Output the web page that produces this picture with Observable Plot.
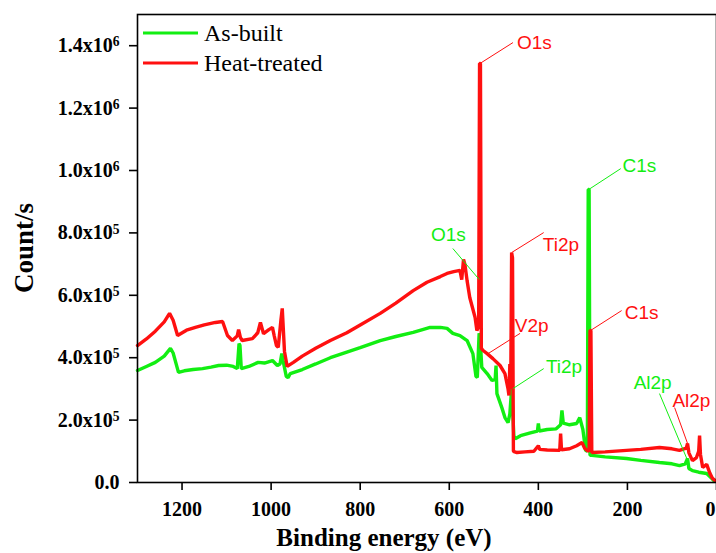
<!DOCTYPE html>
<html>
<head>
<meta charset="utf-8">
<script src="https://cdn.jsdelivr.net/npm/d3@7"></script>
<script src="https://cdn.jsdelivr.net/npm/@observablehq/plot@0.6"></script>
<style>
  html, body { margin: 0; padding: 0; background: white; }
  #chart { width: 716px; height: 553px; overflow: hidden; }
</style>
</head>
<body>
<div id="chart"></div>
<script>
// XPS survey spectra: binding energy (eV) vs. intensity (counts/s)
const asBuiltEnergy = [1300, 1280, 1260, 1240, 1226, 1220, 1208, 1195, 1175, 1154, 1135, 1118, 1100, 1085, 1076, 1072, 1070, 1067, 1050, 1029, 1015, 997, 986, 980, 976, 973, 966, 962, 957, 930, 900, 867, 830, 800, 755, 720, 681, 660, 643, 620, 605, 592, 576, 560, 547, 540, 537, 533, 531, 527, 515, 504, 497, 495, 493, 482, 475, 468, 464, 460, 458, 455, 452, 440, 420, 402, 400, 398, 380, 360, 350, 347, 344, 330, 314, 307, 300, 294, 290, 288, 286, 284, 280, 250, 202, 170, 128, 100, 83, 70, 65, 62, 54, 40, 22, 12, 5];
const asBuiltCounts = [359000, 372000, 385000, 405000, 430000, 415000, 353000, 358000, 362000, 365000, 370000, 375000, 376000, 372000, 365000, 445000, 440000, 365000, 372000, 385000, 383000, 391000, 375000, 380000, 413000, 390000, 340000, 336000, 349000, 362000, 380000, 400000, 418000, 432000, 455000, 468000, 481000, 490000, 497000, 497000, 494000, 478000, 471000, 455000, 413000, 340000, 337000, 478000, 470000, 369000, 349000, 327000, 330000, 375000, 285000, 240000, 208000, 192000, 220000, 300000, 240000, 150000, 140000, 150000, 158000, 165000, 189000, 165000, 170000, 172000, 185000, 231000, 190000, 185000, 189000, 208000, 170000, 103000, 100000, 939000, 939000, 87000, 87000, 82000, 77000, 71000, 64000, 60000, 54000, 60000, 77000, 45000, 38000, 33000, 29000, 15000, 5000];

const heatEnergy = [1300, 1280, 1260, 1240, 1228, 1220, 1210, 1190, 1170, 1150, 1125, 1109, 1098, 1087, 1076, 1073, 1069, 1065, 1042, 1030, 1024, 1017, 1005, 997, 993, 988, 984, 978, 975, 970, 964, 950, 930, 900, 867, 830, 800, 755, 720, 681, 650, 620, 605, 590, 576, 572, 568, 565, 560, 554, 542, 538, 534, 532, 530, 528, 524, 515, 502, 486, 475, 468, 466, 464, 462, 460, 458, 456, 448, 430, 410, 400, 397, 380, 352, 350, 348, 330, 314, 302, 296, 291, 286, 284, 282, 280, 250, 202, 170, 128, 100, 83, 68, 65, 62, 54, 45, 40, 38, 36, 31, 22, 15, 9, 2];
const heatCounts = [439000, 460000, 485000, 515000, 542000, 520000, 471000, 488000, 497000, 505000, 513000, 516000, 471000, 455000, 470000, 490000, 465000, 455000, 461000, 480000, 513000, 477000, 490000, 497000, 470000, 439000, 433000, 520000, 558000, 420000, 372000, 385000, 405000, 430000, 455000, 480000, 505000, 542000, 575000, 615000, 642000, 660000, 670000, 676000, 680000, 650000, 715000, 700000, 647000, 593000, 529000, 487000, 500000, 1343000, 1343000, 430000, 423000, 413000, 397000, 375000, 349000, 300000, 279000, 380000, 300000, 737000, 720000, 100000, 96000, 98000, 100000, 118000, 106000, 104000, 103000, 157000, 105000, 108000, 118000, 128000, 110000, 103000, 100000, 487000, 487000, 96000, 98000, 103000, 106000, 112000, 108000, 103000, 110000, 125000, 95000, 70000, 80000, 100000, 150000, 90000, 48000, 58000, 30000, 13000, 5000];

const seriesNames = ["As-built", "Heat-treated"];
const seriesColors = ["#12ee12", "#ff1010"];

const xTicks = [1200, 1000, 800, 600, 400, 200, 0];
const yTicks = [0, 200000, 400000, 600000, 800000, 1000000, 1200000, 1400000];
const yTickLabels = ["0.0", "2.0x10^5", "4.0x10^5", "6.0x10^5", "8.0x10^5", "1.0x10^6", "1.2x10^6", "1.4x10^6"];

// Peak labels: label, series, leader start (peak) -> leader end, text anchor point
const peakLabels = ["O1s", "C1s", "Ti2p", "O1s", "V2p", "Ti2p", "C1s", "Al2p", "Al2p"];
const peakSeries = [1, 0, 1, 0, 1, 0, 1, 0, 1];
const leaderFromE = [531, 287, 460, 592, 513, 457, 283, 128, 94];
const leaderFromC = [1343000, 939000, 737000, 750000, 413000, 301000, 487000, 285000, 240000];
const leaderToE = [457, 215, 388, 533, 441, 388, 213, 65, 65];
const leaderToC = [1410000, 1006000, 801000, 651000, 478000, 365000, 551000, 71000, 125000];
const labelE = [448, 211, 390, 641, 453, 383, 206, 186, 99];
const labelC = [1410000, 1016000, 763000, 792000, 503000, 369000, 545000, 320000, 263000];

const asBuilt = asBuiltEnergy.map((e, i) => ({energy: e, counts: asBuiltCounts[i]}));
const heat = heatEnergy.map((e, i) => ({energy: e, counts: heatCounts[i]}));
const peaks = peakLabels.map((label, i) => ({
  label, s: peakSeries[i],
  x1: leaderFromE[i], y1: leaderFromC[i], x2: leaderToE[i], y2: leaderToC[i],
  tx: labelE[i], ty: labelC[i]
}));

const yLabelMap = new Map(yTicks.map((v, i) => [v, yTickLabels[i]]));
const sans = "'Liberation Sans', Arial, sans-serif";
const serif = "'Liberation Serif', 'Times New Roman', serif";

const peakMarks = [0, 1].flatMap(s => [
  Plot.link(peaks, {filter: d => d.s === s, x1: "x1", y1: "y1", x2: "x2", y2: "y2", stroke: seriesColors[s], strokeWidth: 1}),
  Plot.text(peaks, {filter: d => d.s === s, x: "tx", y: "ty", text: "label", fill: seriesColors[s],
    textAnchor: "start", lineAnchor: "middle", fontFamily: sans, fontSize: 19, fontWeight: "normal"})
]);

const chart = Plot.plot({
  width: 716,
  height: 553,
  marginLeft: 137,
  marginRight: 0,
  marginTop: 14,
  marginBottom: 71,
  style: {fontFamily: serif, fontSize: "20px", fontWeight: "bold", background: "white", color: "black"},
  x: {domain: [1300, 0], label: null},
  y: {domain: [0, 1500000], label: null},
  marks: [
    Plot.axisX({ticks: xTicks, tickSize: 8, tickPadding: 11, strokeWidth: 1.6, tickFormat: d => String(d), label: null}),
    Plot.axisY({ticks: yTicks, tickSize: 8, tickPadding: 10, strokeWidth: 1.6, tickFormat: d => yLabelMap.get(d), label: null}),
    Plot.line(asBuilt, {x: "energy", y: "counts", stroke: seriesColors[0], strokeWidth: 3.4, strokeLinejoin: "miter"}),
    Plot.line(heat, {x: "energy", y: "counts", stroke: seriesColors[1], strokeWidth: 3.4, strokeLinejoin: "miter"}),
    ...peakMarks,
    Plot.frame({stroke: "black", strokeWidth: 1.6})
  ]
});

document.getElementById("chart").appendChild(chart);

const svg = d3.select(chart);

// Scientific-notation tick labels: raise the exponent; keep the last x label inside the edge
svg.selectAll("text").each(function () {
  const t = this.textContent;
  if (t.includes("^")) {
    const [base, exp] = t.split("^");
    this.textContent = base;
    d3.select(this).append("tspan").attr("dy", "-0.42em").attr("font-size", "0.68em").text(exp);
  } else if (t === "0") {
    d3.select(this).attr("text-anchor", "end").attr("dx", -1);
  }
});

// Axis titles
svg.append("text")
  .attr("transform", "translate(33,248) rotate(-90)")
  .attr("text-anchor", "middle")
  .attr("font-family", serif).attr("font-weight", "bold").attr("font-size", 27)
  .attr("fill", "black")
  .text("Count/s");
svg.append("text")
  .attr("x", 384).attr("y", 546)
  .attr("text-anchor", "middle")
  .attr("font-family", serif).attr("font-weight", "bold").attr("font-size", 25)
  .attr("fill", "black")
  .text("Binding energy (eV)");

// Legend
const legend = svg.append("g").attr("text-anchor", "start");
seriesNames.forEach((name, i) => {
  const y = 33 + i * 30;
  legend.append("line").attr("x1", 143).attr("x2", 198).attr("y1", y).attr("y2", y)
    .attr("stroke", seriesColors[i]).attr("stroke-width", 3);
  legend.append("text").attr("x", 204).attr("y", y + 8)
    .attr("text-anchor", "start")
    .attr("font-family", serif).attr("font-weight", "normal").attr("font-size", 24)
    .attr("fill", "black").text(name);
});
</script>
</body>
</html>
